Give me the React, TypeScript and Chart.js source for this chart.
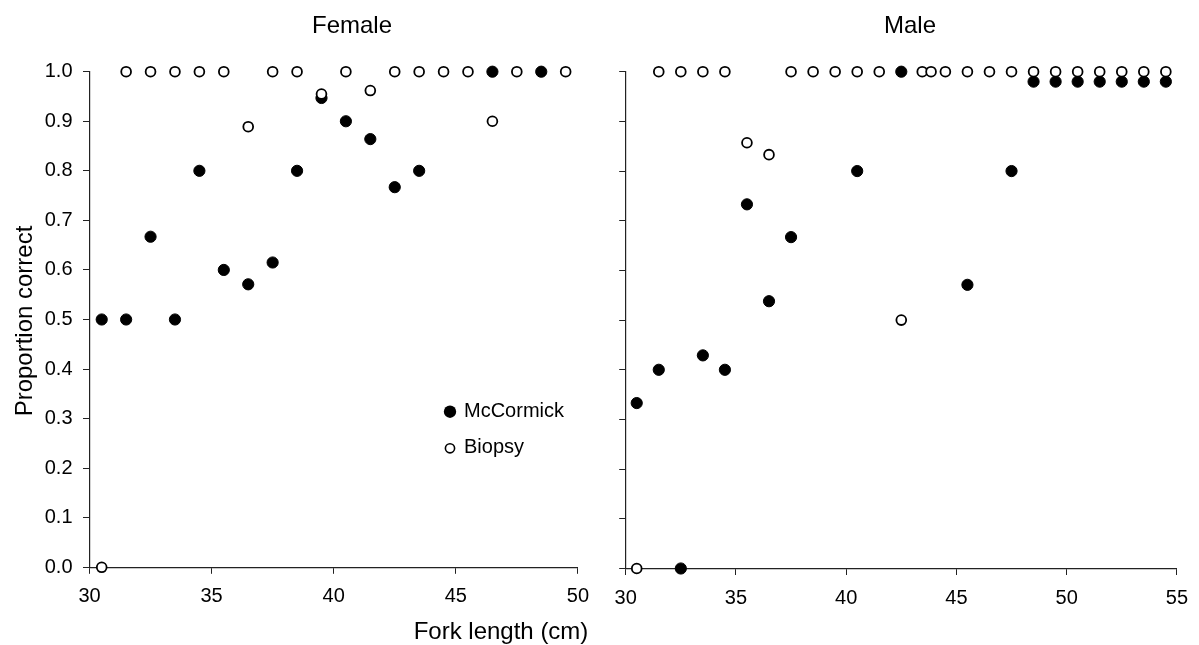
import React, { useEffect, useRef } from 'react';
import { Chart, registerables } from 'chart.js';

Chart.register(...registerables);

const FONT = "'Liberation Sans', Arial, Helvetica, sans-serif";

// ---------- data ----------
const panelTitles = ['Female', 'Male'];
const seriesNames = ['McCormick', 'Biopsy'];
const xAxisTitle = 'Fork length (cm)';
const yAxisTitle = 'Proportion correct';

const femaleMcCormickLength = [30.5, 31.5, 32.5, 33.5, 34.5, 35.5, 36.5, 37.5, 38.5, 39.5, 40.5, 41.5, 42.5, 43.5, 46.5, 48.5];
const femaleMcCormickProp = [0.5, 0.5, 0.667, 0.5, 0.8, 0.6, 0.571, 0.615, 0.8, 0.947, 0.9, 0.864, 0.767, 0.8, 1.0, 1.0];
const femaleBiopsyLength = [30.5, 31.5, 32.5, 33.5, 34.5, 35.5, 36.5, 37.5, 38.5, 39.5, 40.5, 41.5, 42.5, 43.5, 44.5, 45.5, 46.5, 47.5, 49.5];
const femaleBiopsyProp = [0, 1, 1, 1, 1, 1, 0.889, 1, 1, 0.955, 1, 0.962, 1, 1, 1, 1, 0.9, 1, 1];

const maleMcCormickLength = [30.5, 31.5, 32.5, 33.5, 34.5, 35.5, 36.5, 37.5, 40.5, 42.5, 45.5, 47.5, 48.5, 49.5, 50.5, 51.5, 52.5, 53.5, 54.5];
const maleMcCormickProp = [0.333, 0.4, 0, 0.429, 0.4, 0.733, 0.538, 0.667, 0.8, 1.0, 0.571, 0.8, 0.98, 0.98, 0.98, 0.98, 0.98, 0.98, 0.98];
const maleBiopsyLength = [30.5, 31.5, 32.5, 33.5, 34.5, 35.5, 36.5, 37.5, 38.5, 39.5, 40.5, 41.5, 42.5, 43.45, 43.85, 44.5, 45.5, 46.5, 47.5, 48.5, 49.5, 50.5, 51.5, 52.5, 53.5, 54.5];
const maleBiopsyProp = [0, 1, 1, 1, 1, 0.857, 0.833, 1, 1, 1, 1, 1, 0.5, 1, 1, 1, 1, 1, 1, 1, 1, 1, 1, 1, 1, 1];

const femaleXTicks = [30, 35, 40, 45, 50];
const maleXTicks = [30, 35, 40, 45, 50, 55];
const yTicks = [0, 0.1, 0.2, 0.3, 0.4, 0.5, 0.6, 0.7, 0.8, 0.9, 1.0];

// ---------- helpers ----------
const toPoints = (xs: number[], ys: number[]) => xs.map((x, i) => ({ x, y: ys[i] }));

const CANVAS_H = 645;

function filledStyle() {
  return {
    pointRadius: 5.6,
    pointBackgroundColor: '#000',
    pointBorderColor: '#000',
    pointBorderWidth: 1,
    pointHoverRadius: 5.6,
    showLine: false,
    order: 1,
    clip: false as const,
  };
}
function openStyle() {
  return {
    pointRadius: 4.9,
    pointBackgroundColor: '#fff',
    pointBorderColor: '#000',
    pointBorderWidth: 1.8,
    pointHoverRadius: 4.9,
    showLine: false,
    order: 0,
    clip: false as const,
  };
}

type PanelSpec = {
  width: number;
  areaTop: number;
  areaLeft: number;
  areaRight: number;
  areaBottom: number;
  xMax: number;
  xTicks: number[];
  showYLabels: boolean;
  mcX: number[];
  mcY: number[];
  bioX: number[];
  bioY: number[];
  draw: (ctx: CanvasRenderingContext2D) => void;
};

function buildConfig(p: PanelSpec): any {
  const textPlugin = {
    id: 'panelText',
    afterDraw(chart: any) {
      const ctx = chart.ctx as CanvasRenderingContext2D;
      ctx.save();
      p.draw(ctx);
      ctx.restore();
    },
  };
  const gridOpts = {
    display: true,
    drawOnChartArea: false,
    drawTicks: true,
    tickLength: 6.5,
    color: '#222',
    lineWidth: 1,
  };
  const borderOpts = { display: true, color: '#222', width: 1.2 };
  return {
    type: 'scatter',
    data: {
      datasets: [
        { label: seriesNames[0], data: toPoints(p.mcX, p.mcY), ...filledStyle() },
        { label: seriesNames[1], data: toPoints(p.bioX, p.bioY), ...openStyle() },
      ],
    },
    options: {
      responsive: false,
      maintainAspectRatio: false,
      animation: false,
      devicePixelRatio: 1,
      events: [],
      layout: {
        padding: { top: p.areaTop, right: p.width - p.areaRight, bottom: 0, left: 0 },
      },
      plugins: {
        legend: { display: false },
        title: { display: false },
        tooltip: { enabled: false },
      },
      scales: {
        x: {
          type: 'linear',
          min: 30,
          max: p.xMax,
          afterBuildTicks: (s: any) => {
            s.ticks = p.xTicks.map((v) => ({ value: v }));
          },
          afterFit: (s: any) => {
            s.height = CANVAS_H - p.areaBottom;
          },
          grid: gridOpts,
          border: borderOpts,
          ticks: {
            font: { family: FONT, size: 20 },
            color: '#000',
            padding: 11,
            maxRotation: 0,
            autoSkip: false,
            callback: (v: any) => String(v),
          },
        },
        y: {
          type: 'linear',
          min: 0,
          max: 1,
          afterBuildTicks: (s: any) => {
            s.ticks = yTicks.map((v) => ({ value: v }));
          },
          afterFit: (s: any) => {
            s.width = p.areaLeft;
          },
          grid: gridOpts,
          border: borderOpts,
          ticks: {
            font: { family: FONT, size: 20 },
            color: '#000',
            padding: 10.5,
            autoSkip: false,
            callback: (v: any) => (p.showYLabels ? Number(v).toFixed(1) : ''),
          },
        },
      },
    },
    plugins: [textPlugin],
  };
}

function drawFemaleText(ctx: CanvasRenderingContext2D) {
  ctx.fillStyle = '#000';
  ctx.font = `24px ${FONT}`;
  ctx.textAlign = 'center';
  ctx.textBaseline = 'alphabetic';
  ctx.fillText(panelTitles[0], 352, 32.5);
  ctx.fillText(xAxisTitle, 501, 639);

  ctx.save();
  ctx.translate(31.7, 321);
  ctx.rotate(-Math.PI / 2);
  ctx.fillText(yAxisTitle, 0, 0);
  ctx.restore();

  // legend
  ctx.beginPath();
  ctx.arc(450, 411.7, 6.2, 0, Math.PI * 2);
  ctx.fillStyle = '#000';
  ctx.fill();
  ctx.beginPath();
  ctx.arc(450, 448.3, 4.6, 0, Math.PI * 2);
  ctx.fillStyle = '#fff';
  ctx.fill();
  ctx.lineWidth = 1.6;
  ctx.strokeStyle = '#000';
  ctx.stroke();

  ctx.fillStyle = '#000';
  ctx.font = `20px ${FONT}`;
  ctx.textAlign = 'left';
  ctx.fillText(seriesNames[0], 464, 417.3);
  ctx.fillText(seriesNames[1], 464, 453.3);
}

function drawMaleText(ctx: CanvasRenderingContext2D) {
  ctx.fillStyle = '#000';
  ctx.font = `24px ${FONT}`;
  ctx.textAlign = 'center';
  ctx.textBaseline = 'alphabetic';
  ctx.fillText(panelTitles[1], 310, 32.5);
}

const femaleSpec: PanelSpec = {
  width: 600,
  areaTop: 71.7,
  areaLeft: 89.5,
  areaRight: 583.3,
  areaBottom: 567.3,
  xMax: 50,
  xTicks: femaleXTicks,
  showYLabels: true,
  mcX: femaleMcCormickLength,
  mcY: femaleMcCormickProp,
  bioX: femaleBiopsyLength,
  bioY: femaleBiopsyProp,
  draw: drawFemaleText,
};

const maleSpec: PanelSpec = {
  width: 599,
  areaTop: 71.7,
  areaLeft: 25.7,
  areaRight: 577.3,
  areaBottom: 568.5,
  xMax: 55,
  xTicks: maleXTicks,
  showYLabels: false,
  mcX: maleMcCormickLength,
  mcY: maleMcCormickProp,
  bioX: maleBiopsyLength,
  bioY: maleBiopsyProp,
  draw: drawMaleText,
};

function Panel({ spec, left }: { spec: PanelSpec; left: number }) {
  const ref = useRef<HTMLCanvasElement>(null);
  useEffect(() => {
    if (!ref.current) return;
    const chart = new Chart(ref.current, buildConfig(spec));
    return () => chart.destroy();
  }, [spec]);
  return (
    <canvas
      ref={ref}
      width={spec.width}
      height={CANVAS_H}
      style={{ position: 'absolute', left, top: 0, width: spec.width, height: CANVAS_H }}
    />
  );
}

export default function App() {
  return (
    <div
      style={{
        position: 'absolute',
        left: 0,
        top: 0,
        width: 1199,
        height: CANVAS_H,
        background: '#fff',
        overflow: 'hidden',
      }}
    >
      <Panel spec={femaleSpec} left={0} />
      <Panel spec={maleSpec} left={600} />
    </div>
  );
}
